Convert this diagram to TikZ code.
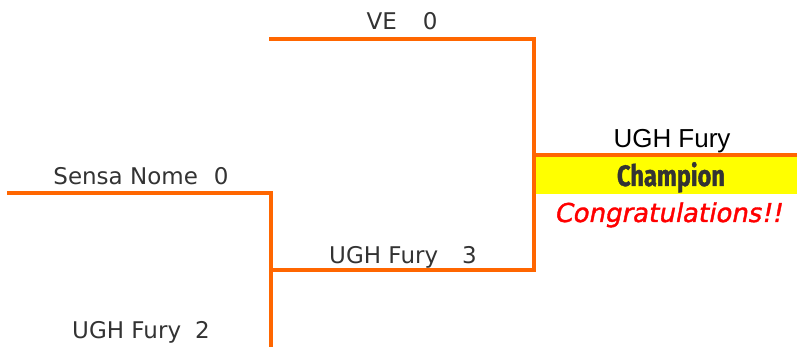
\documentclass[tikz,border=0pt]{standalone}
\usepackage{fontspec}
\usepackage{xcolor}
\setmainfont{DejaVu Sans}
\newfontfamily\armfont{Liberation Sans}
\newfontfamily\champfont[FakeStretch=0.8,FakeBold=1.2]{Fira Sans Bold}
\newfontfamily\congfont[FakeBold=1.4,FakeSlant=0.2]{DejaVu Sans}
\definecolor{bracket}{HTML}{FF6600}
\definecolor{txt}{HTML}{333333}
\definecolor{champbg}{HTML}{FFFF00}
\definecolor{congred}{HTML}{FF0000}

\begin{document}
\begin{tikzpicture}[x=1pt, y=-1pt, line/.style={draw=bracket, line width=3.3pt, line cap=rect}, team/.style={anchor=base, inner sep=0pt, text=txt, font=\fontsize{23}{23}\selectfont}, winner/.style={anchor=base, inner sep=0pt, font=\armfont\fontsize{26}{26}\selectfont}]
\useasboundingbox (0,0) rectangle (797,347);
% bracket joints
\coordinate (s1) at (9,193);
\coordinate (j1) at (271,193);
\coordinate (b1) at (271,349);
\coordinate (m1) at (271,270);
\coordinate (m2) at (534,270);
\coordinate (t1) at (271,39);
\coordinate (t2) at (534,39);
\coordinate (c1) at (534,155);
\coordinate (c2) at (799,155);
\node[fill=champbg, inner sep=0pt, minimum width=263pt, minimum height=37pt, anchor=north west] (champ) at (534,157) {};
\draw[line] (s1) -- (j1) -- (b1);
\draw[line] (m1) -- (m2) -- (t2) -- (t1);
\draw[line] (c1) -- (c2);
% team names
\node[team] (ve) at (402,30) {VE\hspace{26pt}0};
\node[team] (sensa) at (141,185) {Sensa Nome\hspace{16pt}0};
\node[team] (fury2) at (141,338) {UGH Fury\hspace{14pt}2};
\node[team] (fury3) at (403,263) {UGH Fury\hspace{24pt}3};
\node[winner] (name) at (672,148) {UGH Fury};
\node[anchor=base, inner sep=0pt, text=txt, font=\champfont\fontsize{29.5}{29.5}\selectfont] (ctext) at (671,186) {Champion};
\node[anchor=base, inner sep=0pt, text=congred, font=\congfont\fontsize{26}{26}\selectfont] (congr) at (668,222) {Congratulations!!};
\end{tikzpicture}
\end{document}
